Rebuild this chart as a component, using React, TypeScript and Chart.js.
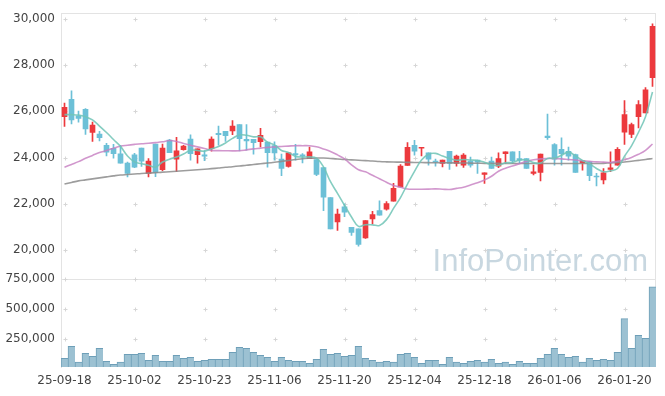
import React, { useEffect, useRef } from 'react';
import { Chart, registerables } from 'chart.js';
Chart.register(...registerables);

const dates = [
  '25-09-18','25-09-19','25-09-22','25-09-23','25-09-24','25-09-25','25-09-26','25-09-29','25-09-30','25-10-01',
  '25-10-02','25-10-10','25-10-13','25-10-14','25-10-15','25-10-16','25-10-17','25-10-20','25-10-21','25-10-22',
  '25-10-23','25-10-24','25-10-27','25-10-28','25-10-29','25-10-30','25-10-31','25-11-03','25-11-04','25-11-05',
  '25-11-06','25-11-07','25-11-10','25-11-11','25-11-12','25-11-13','25-11-14','25-11-17','25-11-18','25-11-19',
  '25-11-20','25-11-21','25-11-24','25-11-25','25-11-26','25-11-27','25-11-28','25-12-01','25-12-02','25-12-03',
  '25-12-04','25-12-05','25-12-08','25-12-09','25-12-10','25-12-11','25-12-12','25-12-15','25-12-16','25-12-17',
  '25-12-18','25-12-19','25-12-22','25-12-23','25-12-24','25-12-26','25-12-29','25-12-30','26-01-02','26-01-05',
  '26-01-06','26-01-07','26-01-08','26-01-09','26-01-12','26-01-13','26-01-14','26-01-15','26-01-16','26-01-19',
  '26-01-20','26-01-21','26-01-22','26-01-23','26-01-26'
];

const tickLabels = ['25-09-18','25-10-02','25-10-23','25-11-06','25-11-20','25-12-04','25-12-18','26-01-06','26-01-20'];
const priceTicks = [20000, 22000, 24000, 26000, 28000, 30000];
const volumeTicks = [250000, 500000, 750000];

const opens = [
  25774,26516,25800,26087,25088,25016,24531,24403,24158,23760,
  24115,24415,23314,24587,23473,24760,23932,24342,24801,24128,
  24115,24386,25046,25131,25157,25430,24788,24788,24686,24673,
  24514,23932,23614,24171,24115,23957,23914,23571,22272,21214,
  21874,20986,20917,20528,21343,21703,21771,22114,22731,23657,
  24531,24403,24201,23845,23743,24274,23743,23674,23845,23888,
  23271,23845,23631,24171,24244,23957,23957,23314,23357,24930,
  24557,24360,24274,24128,23772,23815,23190,23031,23486,23674,
  25101,25003,25774,25928,27458
];
const highs = [
  26357,26888,26014,26120,25530,25131,24617,24574,24531,23800,
  24188,24415,23957,24587,24587,24788,24874,24530,24986,24373,
  24300,24900,25358,25131,25602,25430,25430,24788,25260,24673,
  24686,24146,24201,24574,24171,24458,23914,23571,22272,21771,
  22003,20986,20917,21274,21672,22131,22101,22885,23700,24643,
  24746,24446,24201,23932,23888,24274,24103,24171,24017,23888,
  23343,24017,24201,24244,24244,24274,23957,23674,24146,25886,
  24600,24857,24458,24146,23857,23815,23314,23528,24244,24429,
  26460,25487,26460,27030,29786
];
const lows = [
  25346,25457,25530,25003,24703,24716,24073,23974,23760,23160,
  23560,23614,23160,23174,23430,24214,23387,24320,23888,23760,
  23871,24274,24531,24703,24986,24287,24317,24146,24458,23588,
  23888,23216,23588,23888,23773,23957,23216,21703,20914,20845,
  21446,20631,20172,20500,21128,21514,21728,22114,22731,23657,
  24103,24073,23674,23631,23600,23486,23631,23571,23588,23314,
  22885,23528,23560,23743,23743,23743,23528,23245,22988,24788,
  23674,23674,23888,23357,23459,23001,22774,22860,23387,23674,
  24574,24857,25285,25928,27073
];
const closes = [
  26173,25628,25689,25243,25401,24857,24231,24171,23760,23314,
  23588,23845,23845,23343,24415,24214,24287,24501,24171,24373,
  24060,24801,24986,24943,25358,24814,24716,24643,24960,24214,
  24201,23528,24201,24115,24060,24244,23271,22286,20914,21557,
  21643,20759,20245,21274,21531,21514,22015,22671,23631,24446,
  24274,24446,23931,23803,23888,23743,24060,24103,23674,23803,
  23343,23528,23957,24244,23857,23888,23528,23386,24146,24860,
  23932,24171,24060,23357,23857,23215,23160,23343,23558,24360,
  25860,25431,26288,26931,29674
];
const volumes = [
  90000,190000,58000,132000,107000,173000,66000,41000,58000,124000,
  124000,132000,74000,115000,66000,66000,115000,90000,99000,66000,
  74000,82000,82000,82000,140000,181000,173000,140000,115000,99000,
  66000,99000,74000,66000,66000,49000,82000,165000,124000,132000,
  107000,115000,190000,90000,74000,58000,66000,58000,124000,132000,
  99000,49000,74000,74000,41000,99000,58000,49000,66000,74000,
  58000,82000,49000,58000,41000,66000,49000,49000,90000,124000,
  173000,124000,99000,107000,58000,90000,74000,82000,74000,140000,
  420000,173000,280000,255000,684000
];
const ma5 = [
  25857,25857,25838,25765,25627,25364,25084,24781,24484,24067,
  23813,23736,23670,23587,23807,23932,24021,24152,24318,24309,
  24278,24381,24478,24633,24830,24980,24963,24895,24898,24669,
  24547,24309,24221,24052,24021,24030,23978,23595,22955,22454,
  21934,21432,21024,21096,21090,21065,21316,21801,22272,22855,
  23407,23894,24146,24180,24068,23962,23885,23919,23894,23877,
  23797,23690,23661,23775,23786,23895,23895,23781,23761,23962,
  23970,24099,24234,24076,23875,23732,23530,23386,23427,23527,
  24056,24510,25095,25770,26832
];
const ma20 = [
  23584,23704,23824,23970,24094,24218,24304,24407,24493,24535,
  24570,24600,24621,24647,24681,24737,24698,24608,24531,24463,
  24390,24313,24300,24296,24291,24296,24334,24377,24407,24441,
  24463,24480,24497,24514,24514,24510,24467,24372,24265,24115,
  23944,23687,23473,23382,23232,23087,22932,22795,22718,22641,
  22632,22632,22637,22645,22632,22619,22667,22718,22817,22907,
  23031,23190,23408,23537,23635,23734,23837,23905,23944,23957,
  23957,23944,23918,23892,23862,23837,23815,23802,23790,23841,
  23910,24008,24141,24313,24587
];
const ma60 = [
  22855,22924,22992,23035,23078,23121,23164,23207,23245,23267,
  23288,23310,23327,23348,23370,23387,23408,23430,23451,23472,
  23494,23520,23550,23580,23605,23635,23670,23700,23734,23764,
  23798,23837,23875,23914,23952,23970,23978,23982,23961,23940,
  23914,23901,23884,23867,23850,23828,23815,23806,23802,23794,
  23790,23785,23781,23777,23777,23772,23768,23764,23760,23755,
  23751,23747,23747,23742,23742,23742,23742,23742,23742,23742,
  23742,23742,23742,23742,23742,23742,23742,23751,23772,23790,
  23806,23841,23880,23918,23961
];

const UP = '#ec393d';
const DOWN = '#6cc0d7';
const FONT = 'DejaVu Sans';

const decorPlugin = {
  id: 'decor',
  beforeDatasetsDraw(chart: any) {
    const { ctx, chartArea: a, scales } = chart;
    const x = scales.x, yp = scales.y, yv = scales.yv;
    ctx.save();
    // watermark
    ctx.font = '31px "Liberation Sans"';
    ctx.fillStyle = '#c8d7e0';
    ctx.textAlign = 'right';
    ctx.textBaseline = 'alphabetic';
    ctx.fillText('InfoPointer.com', a.right - 8, yp.bottom - 8);
    // frame lines
    ctx.strokeStyle = '#e3e3e3';
    ctx.lineWidth = 1;
    ctx.beginPath();
    ctx.moveTo(a.left, Math.round(a.top) + 0.5);
    ctx.lineTo(a.right, Math.round(a.top) + 0.5);
    ctx.moveTo(Math.round(a.right) - 0.5, a.top);
    ctx.lineTo(Math.round(a.right) - 0.5, a.bottom);
    const sy = Math.round(yv.top) + 0.5;
    ctx.moveTo(a.left, sy);
    ctx.lineTo(a.right, sy);
    ctx.stroke();
    // crosses
    ctx.strokeStyle = '#d6d6d6';
    ctx.beginPath();
    const xs: number[] = [];
    dates.forEach((d, i) => { if (tickLabels.includes(d)) xs.push(Math.round(x.getPixelForValue(i)) + 0.5); });
    const ys: number[] = [];
    priceTicks.forEach(v => ys.push(Math.round(yp.getPixelForValue(v)) + 0.5));
    volumeTicks.forEach(v => ys.push(Math.round(yv.getPixelForValue(v)) + 0.5));
    xs.forEach(px => ys.forEach(py => {
      ctx.moveTo(px - 2, py); ctx.lineTo(px + 2, py);
      ctx.moveTo(px, py - 2); ctx.lineTo(px, py + 2);
    }));
    ctx.stroke();
    ctx.restore();
  }
};

export default function App() {
  const ref = useRef<HTMLCanvasElement | null>(null);
  useEffect(() => {
    document.body.style.margin = '0';
    const colors = opens.map((o, i) => (closes[i] >= o ? UP : DOWN));
    const chart = new Chart(ref.current as HTMLCanvasElement, {
      type: 'bar',
      data: {
        labels: dates,
        datasets: [
          { type: 'line', data: ma5, borderColor: 'rgba(112,196,182,0.85)', borderWidth: 1.6, pointRadius: 0, tension: 0.4, yAxisID: 'y', order: 0 } as any,
          { type: 'line', data: ma20, borderColor: 'rgba(198,125,192,0.8)', borderWidth: 1.6, pointRadius: 0, tension: 0.4, yAxisID: 'y', order: 0 } as any,
          { type: 'line', data: ma60, borderColor: 'rgba(140,140,140,0.85)', borderWidth: 1.6, pointRadius: 0, tension: 0.4, yAxisID: 'y', order: 0 } as any,
          { type: 'bar', data: opens.map((o, i) => [o, closes[i]]), backgroundColor: colors, barThickness: 5, minBarLength: 1, grouped: false, yAxisID: 'y', order: 1 } as any,
          { type: 'bar', data: lows.map((l, i) => [l, highs[i]]), backgroundColor: colors, barThickness: 1, grouped: false, yAxisID: 'y', order: 2 } as any,
          { type: 'bar', data: volumes, backgroundColor: '#9cc1d2', borderColor: '#6e9fb8', borderWidth: { top: 1, left: 1, right: 0, bottom: 0 }, borderSkipped: false, categoryPercentage: 1, barPercentage: 1, grouped: false, yAxisID: 'yv', order: 3 } as any,
        ],
      },
      options: {
        animation: false,
        responsive: false,
        events: [],
        layout: { padding: { top: 10, right: 9, left: 0, bottom: 0 } },
        plugins: { legend: { display: false }, tooltip: { enabled: false } },
        scales: {
          x: {
            type: 'category',
            offset: true,
            grid: { display: false, drawTicks: false },
            border: { display: false },
            ticks: {
              autoSkip: false, maxRotation: 0, minRotation: 0, padding: 7,
              color: '#444', font: { family: FONT, size: 12 },
              callback: (_v: any, i: number) => (tickLabels.includes(dates[i]) ? dates[i] : ''),
            },
            afterFit: (s: any) => { s.height = 29; },
          },
          yv: {
            type: 'linear', position: 'left', stack: 'main', stackWeight: 89,
            min: 18000, max: 750000,
            grid: { display: false, drawTicks: false },
            border: { display: true, color: '#e3e3e3' },
            ticks: { padding: 6, color: '#444', font: { family: FONT, size: 12 } },
            afterBuildTicks: (s: any) => { s.ticks = volumeTicks.map(v => ({ value: v })); },
            afterFit: (s: any) => { s.width = 61; },
          },
          y: {
            type: 'linear', position: 'left', stack: 'main', stackWeight: 268,
            min: 18757, max: 30244,
            grid: { display: false, drawTicks: false },
            border: { display: true, color: '#e3e3e3' },
            ticks: { padding: 6, color: '#444', font: { family: FONT, size: 12 } },
            afterBuildTicks: (s: any) => { s.ticks = priceTicks.map(v => ({ value: v })); },
            afterFit: (s: any) => { s.width = 61; },
          },
        },
      } as any,
      plugins: [decorPlugin],
    });
    return () => chart.destroy();
  }, []);
  return (
    <div style={{ width: 665, height: 396 }}>
      <canvas ref={ref} width={665} height={396} style={{ display: 'block' }} />
    </div>
  );
}
